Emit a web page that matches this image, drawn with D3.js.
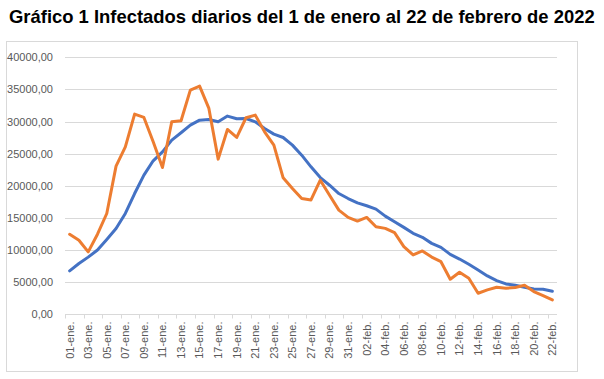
<!DOCTYPE html>
<html>
<head>
<meta charset="utf-8">
<script src="https://cdn.jsdelivr.net/npm/d3@7"></script>
<style>
  html, body { margin: 0; padding: 0; background: #fff; }
  svg { display: block; }
</style>
</head>
<body>
<svg id="chart" width="604" height="379"></svg>
<script>
const title = "Gráfico 1 Infectados diarios del 1 de enero al 22 de febrero de 2022";

const categories = [
  "01-ene.","02-ene.","03-ene.","04-ene.","05-ene.","06-ene.","07-ene.","08-ene.","09-ene.","10-ene.",
  "11-ene.","12-ene.","13-ene.","14-ene.","15-ene.","16-ene.","17-ene.","18-ene.","19-ene.","20-ene.",
  "21-ene.","22-ene.","23-ene.","24-ene.","25-ene.","26-ene.","27-ene.","28-ene.","29-ene.","30-ene.",
  "31-ene.","01-feb.","02-feb.","03-feb.","04-feb.","05-feb.","06-feb.","07-feb.","08-feb.","09-feb.",
  "10-feb.","11-feb.","12-feb.","13-feb.","14-feb.","15-feb.","16-feb.","17-feb.","18-feb.","19-feb.",
  "20-feb.","21-feb.","22-feb."
];

// Daily infected (orange)
const dailyValues = [
  12450, 11530, 9720, 12470, 15690, 23060, 26070, 31160, 30640, 26850,
  22850, 29960, 30120, 34900, 35520, 32040, 24150, 28770, 27520, 30590,
  31000, 28400, 26330, 21240, 19580, 18020, 17800, 20870, 18540, 16210,
  15080, 14510, 15080, 13630, 13370, 12700, 10530, 9240, 9860, 8900,
  8190, 5450, 6540, 5610, 3280, 3800, 4210, 4060, 4160, 4520,
  3540, 2920, 2250
];

// Moving average (blue)
const averageValues = [
  6760, 7900, 8900, 10000, 11640, 13350, 15690, 18800, 21660, 23890,
  25290, 27110, 28250, 29440, 30220, 30330, 29960, 30850, 30430, 30480,
  29960, 28920, 28040, 27520, 26330, 24770, 22950, 21280, 20090, 18800,
  18020, 17350, 16890, 16370, 15280, 14410, 13530, 12600, 11980, 11040,
  10410, 9330, 8600, 7780, 6900, 5970, 5250, 4730, 4520, 4210,
  3950, 3900, 3600
];

const yTicks = [0, 5000, 10000, 15000, 20000, 25000, 30000, 35000, 40000];

const svg = d3.select("#chart");
const textColor = "#595959";
const gridColor = "#d9d9d9";
const fontFamily = "'Liberation Sans', Arial, sans-serif";

// Chart border box
svg.append("rect")
  .attr("x", 6.5).attr("y", 41.5)
  .attr("width", 571).attr("height", 330)
  .attr("fill", "#fff")
  .attr("stroke", gridColor)
  .attr("stroke-width", 1);

// Title
const t = svg.append("text")
  .attr("x", 9).attr("y", 23)
  .attr("font-family", "'Liberation Sans Narrow', 'Liberation Sans', Arial, sans-serif")
  .attr("font-weight", "bold")
  .attr("font-size", 20)
  .attr("fill", "#000")
  .text(title);
const tw = t.node().getComputedTextLength();
t.attr("font-size", 20 * 586 / tw);

const x = d3.scaleBand().domain(categories).range([65, 557]).padding(0);
const y = d3.scaleLinear().domain([0, 40000]).range([314.3, 57.3]);

// Gridlines
svg.append("g")
  .selectAll("line")
  .data(yTicks.filter(d => d > 0))
  .join("line")
  .attr("x1", 65).attr("x2", 557)
  .attr("y1", d => Math.round(y(d)) + 0.5)
  .attr("y2", d => Math.round(y(d)) + 0.5)
  .attr("stroke", gridColor)
  .attr("stroke-width", 1);

// Y axis labels
const fmt = d => d3.format(".2f")(d).replace(".", ",");
const yAxis = svg.append("g")
  .attr("transform", "translate(65,0)")
  .call(d3.axisLeft(y).tickValues(yTicks).tickSize(0).tickPadding(12).tickFormat(fmt));
yAxis.select(".domain").remove();
yAxis.selectAll("text")
  .attr("font-family", fontFamily)
  .attr("font-size", 11)
  .attr("fill", textColor);

// X axis line and ticks
const axisY = Math.round(y(0)) + 0.5;
svg.append("line")
  .attr("x1", 65).attr("x2", 557)
  .attr("y1", axisY).attr("y2", axisY)
  .attr("stroke", gridColor);

const tickCats = categories.filter((d, i) => i % 2 === 0);
svg.append("g")
  .selectAll("line")
  .data(tickCats)
  .join("line")
  .attr("x1", d => Math.round(x(d)) + 0.5)
  .attr("x2", d => Math.round(x(d)) + 0.5)
  .attr("y1", axisY).attr("y2", axisY + 4)
  .attr("stroke", gridColor);

// X labels (rotated)
const xAxis = svg.append("g")
  .attr("transform", `translate(0,${axisY})`)
  .call(d3.axisBottom(x).tickValues(tickCats).tickSize(0).tickPadding(0));
xAxis.select(".domain").remove();
xAxis.selectAll("text")
  .attr("font-family", fontFamily)
  .attr("font-size", 11)
  .attr("fill", textColor)
  .attr("transform", "rotate(-90)")
  .attr("text-anchor", "end")
  .attr("x", -7)
  .attr("y", 0)
  .attr("dy", "0.35em");

// Lines
const line = d3.line()
  .x((d, i) => x(categories[i]) + x.bandwidth() / 2)
  .y(d => y(d));

svg.append("path")
  .datum(averageValues)
  .attr("fill", "none")
  .attr("stroke", "#4472C4")
  .attr("stroke-width", 3)
  .attr("stroke-linejoin", "round")
  .attr("stroke-linecap", "round")
  .attr("d", line);

svg.append("path")
  .datum(dailyValues)
  .attr("fill", "none")
  .attr("stroke", "#ED7D31")
  .attr("stroke-width", 3)
  .attr("stroke-linejoin", "round")
  .attr("stroke-linecap", "round")
  .attr("d", line);
</script>
</body>
</html>
